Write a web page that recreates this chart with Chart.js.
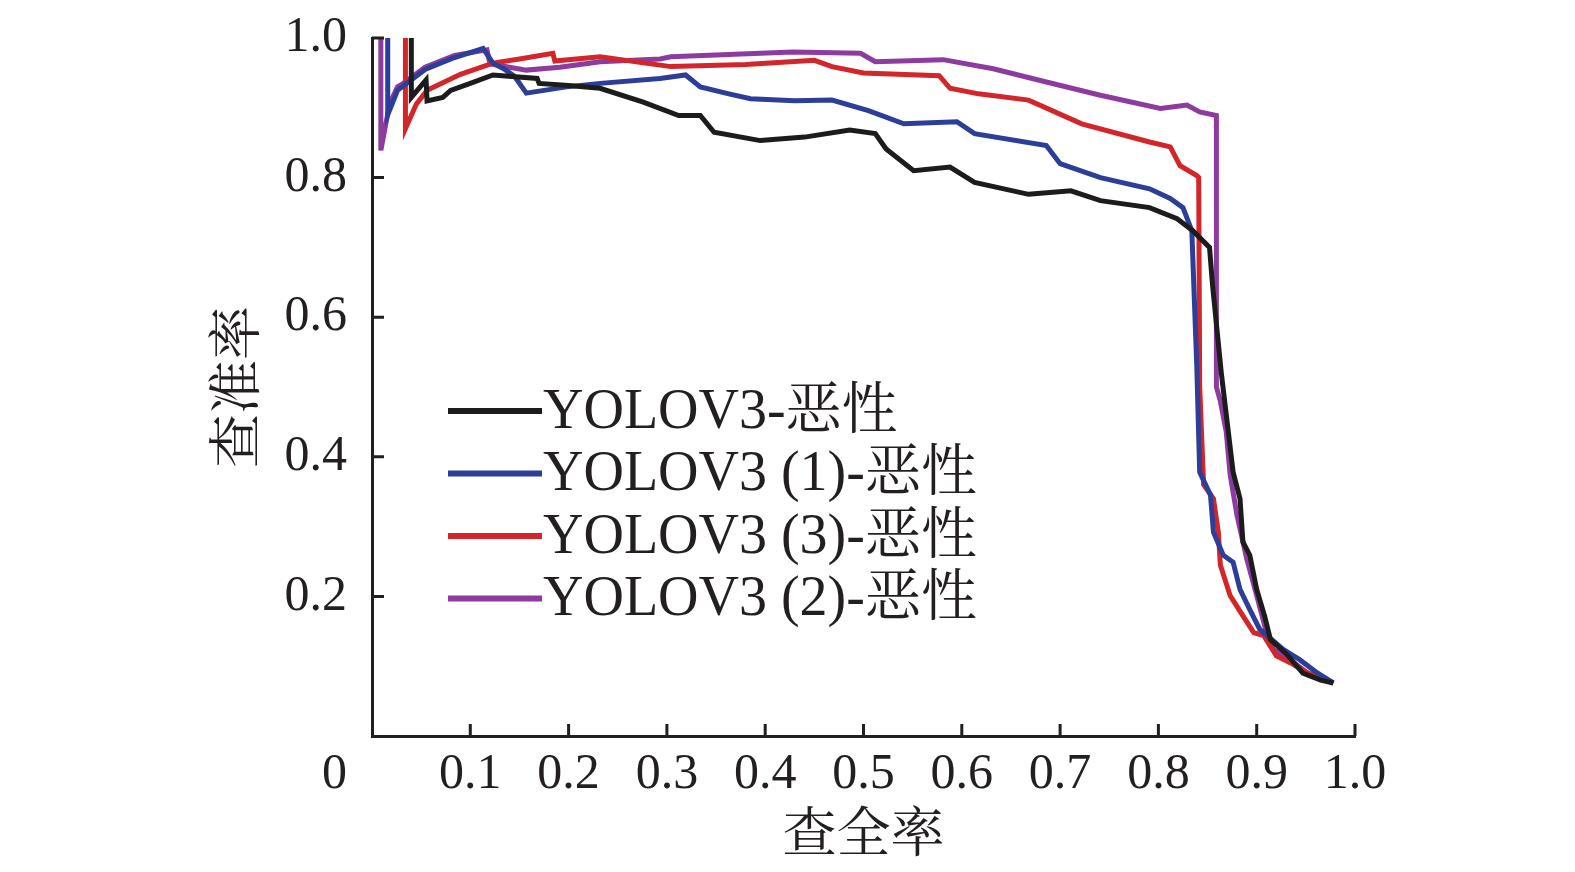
<!DOCTYPE html>
<html>
<head>
<meta charset="utf-8">
<script src="https://cdn.jsdelivr.net/npm/chart.js@4/dist/chart.umd.min.js"></script>
<style>
  html, body { margin: 0; padding: 0; background: #fff; }
  #wrap { width: 1575px; height: 872px; }
</style>
</head>
<body>
<div id="wrap"><canvas id="pr-chart" width="1575" height="872"></canvas></div>
<script>
// axis ticks
const xTicks = [0, 0.1, 0.2, 0.3, 0.4, 0.5, 0.6, 0.7, 0.8, 0.9, 1.0];
const yTicks = [0.2, 0.4, 0.6, 0.8, 1.0];

const seriesNames = ['YOLOV3-恶性', 'YOLOV3 (1)-恶性', 'YOLOV3 (3)-恶性', 'YOLOV3 (2)-恶性'];
const seriesColors = ['#1c1c1c', '#2c3e98', '#d3262a', '#8e3b9f'];

// YOLOV3 (black) – recall / precision
const recallA = [0.040, 0.040, 0.055, 0.056, 0.072, 0.080, 0.100, 0.123, 0.168, 0.170, 0.200, 0.232, 0.276, 0.312, 0.334, 0.348, 0.395, 0.440, 0.486, 0.512, 0.523, 0.551, 0.588, 0.613, 0.668, 0.711, 0.741, 0.791, 0.819, 0.835, 0.852, 0.855, 0.864, 0.876, 0.883, 0.886, 0.893, 0.900, 0.908, 0.914, 0.930, 0.947, 0.965, 0.978];
const precisionA = [1.0, 0.915, 0.940, 0.910, 0.915, 0.925, 0.935, 0.947, 0.942, 0.935, 0.932, 0.928, 0.908, 0.889, 0.889, 0.865, 0.853, 0.858, 0.868, 0.863, 0.841, 0.810, 0.815, 0.793, 0.776, 0.781, 0.767, 0.757, 0.741, 0.724, 0.700, 0.647, 0.520, 0.378, 0.340, 0.278, 0.259, 0.210, 0.172, 0.138, 0.118, 0.090, 0.080, 0.076];

// YOLOV3 (1) (blue)
const recallB = [0.016, 0.016, 0.026, 0.054, 0.084, 0.113, 0.123, 0.135, 0.145, 0.157, 0.175, 0.198, 0.232, 0.293, 0.319, 0.334, 0.363, 0.385, 0.430, 0.468, 0.505, 0.541, 0.595, 0.613, 0.686, 0.700, 0.741, 0.791, 0.812, 0.825, 0.834, 0.836, 0.839, 0.842, 0.853, 0.856, 0.866, 0.876, 0.883, 0.893, 0.903, 0.927, 0.944, 0.960, 0.978];
const precisionB = [1.0, 0.890, 0.925, 0.955, 0.972, 0.985, 0.964, 0.955, 0.945, 0.921, 0.925, 0.930, 0.935, 0.942, 0.947, 0.930, 0.920, 0.913, 0.910, 0.911, 0.896, 0.877, 0.880, 0.863, 0.846, 0.820, 0.800, 0.784, 0.770, 0.757, 0.724, 0.647, 0.532, 0.378, 0.345, 0.292, 0.259, 0.249, 0.210, 0.181, 0.153, 0.124, 0.109, 0.092, 0.076];

// YOLOV3 (3) (red)
const recallC = [0.034, 0.034, 0.045, 0.056, 0.090, 0.123, 0.150, 0.184, 0.186, 0.232, 0.304, 0.380, 0.450, 0.468, 0.500, 0.577, 0.588, 0.617, 0.668, 0.722, 0.791, 0.812, 0.822, 0.839, 0.841, 0.842, 0.846, 0.856, 0.861, 0.863, 0.873, 0.886, 0.897, 0.907, 0.920, 0.934, 0.951, 0.978];
const precisionC = [1.0, 0.870, 0.905, 0.925, 0.948, 0.964, 0.970, 0.978, 0.967, 0.973, 0.959, 0.962, 0.968, 0.959, 0.950, 0.946, 0.928, 0.920, 0.911, 0.877, 0.851, 0.844, 0.817, 0.803, 0.800, 0.500, 0.360, 0.340, 0.292, 0.245, 0.201, 0.172, 0.148, 0.144, 0.115, 0.105, 0.091, 0.076];

// YOLOV3 (2) (purple)
const recallD = [0.009, 0.009, 0.018, 0.026, 0.032, 0.054, 0.084, 0.117, 0.120, 0.157, 0.191, 0.232, 0.293, 0.304, 0.428, 0.497, 0.512, 0.581, 0.632, 0.686, 0.741, 0.802, 0.829, 0.842, 0.859, 0.859, 0.863, 0.869, 0.873, 0.880, 0.890, 0.900, 0.910, 0.917, 0.934, 0.951, 0.978];
const precisionD = [1.0, 0.839, 0.906, 0.930, 0.935, 0.958, 0.975, 0.983, 0.963, 0.954, 0.958, 0.966, 0.970, 0.973, 0.980, 0.978, 0.966, 0.969, 0.956, 0.937, 0.918, 0.899, 0.904, 0.894, 0.889, 0.500, 0.480, 0.436, 0.374, 0.316, 0.253, 0.201, 0.148, 0.124, 0.109, 0.091, 0.076];

const serifFont = '"Liberation Serif", "Noto Serif CJK SC", "Noto Sans CJK SC", serif';
const inkColor = '#231f20';

function toPoints(xs, ys) {
  return xs.map((x, i) => ({ x: x, y: ys[i] }));
}

const allSeries = [
  toPoints(recallA, precisionA),
  toPoints(recallB, precisionB),
  toPoints(recallC, precisionC),
  toPoints(recallD, precisionD)
];

// short tick marks pointing into the plot
const innerTicks = {
  id: 'innerTicks',
  afterDraw(chart) {
    const { ctx, chartArea, scales } = chart;
    ctx.save();
    ctx.strokeStyle = inkColor;
    ctx.lineWidth = 3;
    ctx.beginPath();
    xTicks.forEach((v) => {
      if (v === 0) return;
      const px = scales.x.getPixelForValue(v);
      ctx.moveTo(px, chartArea.bottom);
      ctx.lineTo(px, chartArea.bottom - 12);
    });
    yTicks.forEach((v) => {
      const py = scales.y.getPixelForValue(v);
      ctx.moveTo(chartArea.left, py);
      ctx.lineTo(chartArea.left + 12, py);
    });
    ctx.stroke();
    ctx.restore();
  }
};

// legend stacked inside the plot
const insideLegend = {
  id: 'insideLegend',
  afterDraw(chart) {
    const { ctx } = chart;
    const rowTop = 411;
    const rowGap = 62.5;
    ctx.save();
    ctx.font = '56px ' + serifFont;
    ctx.textBaseline = 'middle';
    ctx.textAlign = 'left';
    chart.data.datasets.forEach((ds, i) => {
      const y = rowTop + i * rowGap;
      ctx.strokeStyle = ds.borderColor;
      ctx.lineWidth = 6;
      ctx.beginPath();
      ctx.moveTo(448, y);
      ctx.lineTo(542, y);
      ctx.stroke();
      ctx.fillStyle = inkColor;
      ctx.fillText(ds.label, 543, y + 2);
    });
    ctx.restore();
  }
};

const ctx = document.getElementById('pr-chart').getContext('2d');
new Chart(ctx, {
  type: 'line',
  data: {
    datasets: allSeries.map((pts, i) => ({
      label: seriesNames[i],
      data: pts,
      borderColor: seriesColors[i],
      borderWidth: 5,
      pointRadius: 0,
      tension: 0,
      fill: false,
      clip: false
    }))
  },
  options: {
    responsive: false,
    animation: false,
    devicePixelRatio: 1,
    layout: { padding: { left: 0, top: 38, right: 220, bottom: 0 } },
    plugins: {
      legend: { display: false },
      tooltip: { enabled: false }
    },
    scales: {
      x: {
        type: 'linear',
        min: 0,
        max: 1,
        afterBuildTicks(scale) {
          scale.ticks = xTicks.map((v) => ({ value: v }));
        },
        afterFit(scale) { scale.height = 136; },
        grid: { display: false, drawTicks: false },
        border: { display: true, color: inkColor, width: 3 },
        ticks: {
          autoSkip: false,
          maxRotation: 0,
          padding: 9,
          color: inkColor,
          font: { family: serifFont, size: 50 },
          callback: (v) => (v === 0 ? '0      ' : v.toFixed(1))
        },
        title: {
          display: true,
          text: '查全率',
          color: inkColor,
          font: { family: serifFont, size: 54 },
          padding: { top: 0, bottom: 2 }
        }
      },
      y: {
        type: 'linear',
        min: 0,
        max: 1,
        afterBuildTicks(scale) {
          scale.ticks = yTicks.map((v) => ({ value: v }));
        },
        afterFit(scale) {
          scale.width = 372;
          scale.paddingTop = 0;
          scale.paddingBottom = 0;
        },
        grid: { display: false, drawTicks: false },
        border: { display: true, color: inkColor, width: 3 },
        ticks: {
          padding: 25,
          color: inkColor,
          font: { family: serifFont, size: 50 },
          callback: (v) => v.toFixed(1)
        },
        title: {
          display: true,
          text: '查准率',
          color: inkColor,
          font: { family: serifFont, size: 54 },
          padding: { top: 208, bottom: 0 }
        }
      }
    }
  },
  plugins: [innerTicks, insideLegend]
});
</script>
</body>
</html>
